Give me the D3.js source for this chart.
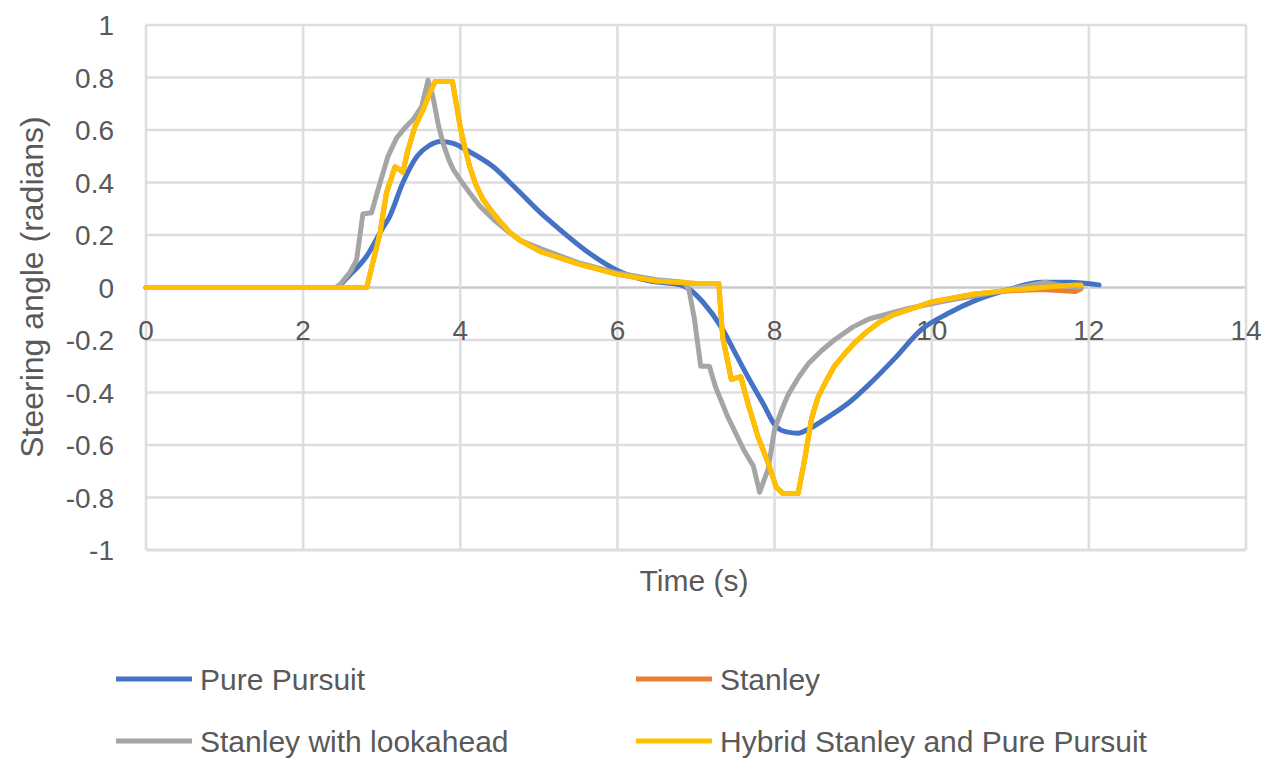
<!DOCTYPE html>
<html>
<head>
<meta charset="utf-8">
<script src="https://cdn.jsdelivr.net/npm/d3@7/dist/d3.min.js"></script>
<style>
  html, body { margin: 0; padding: 0; background: #ffffff; }
  svg text { font-family: "Liberation Sans", Arial, sans-serif; fill: #595959; }
</style>
</head>
<body>
<svg id="chart" width="1272" height="758"></svg>
<script>
// ---- Data ----
const xTicks = [0, 2, 4, 6, 8, 10, 12, 14];
const yTicks = [1, 0.8, 0.6, 0.4, 0.2, 0, -0.2, -0.4, -0.6, -0.8, -1];
const yTickLabels = ["1", "0.8", "0.6", "0.4", "0.2", "0", "-0.2", "-0.4", "-0.6", "-0.8", "-1"];

const seriesNames = ["Pure Pursuit", "Stanley", "Stanley with lookahead", "Hybrid Stanley and Pure Pursuit"];
const seriesColors = ["#4472C4", "#ED7D31", "#A5A5A5", "#FFC000"];

const purePursuitTime = [0, 2.4, 2.6, 2.81, 3.0, 3.1, 3.27, 3.45, 3.6, 3.75, 3.9, 4.1, 4.42, 4.7, 5.02, 5.27, 5.6, 6.0, 6.4, 6.8, 6.93, 7.1, 7.32, 7.5, 7.66, 7.85, 8.02, 8.15, 8.3, 8.43, 8.7, 8.94, 9.2, 9.53, 9.87, 10.2, 10.55, 10.98, 11.4, 11.75, 12.13];
const purePursuitValue = [0, 0, 0.05, 0.12, 0.22, 0.27, 0.40, 0.50, 0.54, 0.556, 0.55, 0.52, 0.46, 0.38, 0.285, 0.22, 0.14, 0.065, 0.025, 0.01, -0.01, -0.06, -0.15, -0.25, -0.34, -0.44, -0.53, -0.55, -0.555, -0.54, -0.49, -0.44, -0.37, -0.27, -0.16, -0.1, -0.05, -0.008, 0.02, 0.02, 0.01];

const stanleyTime = [0, 2.81, 2.98, 3.06, 3.17, 3.27, 3.33, 3.42, 3.53, 3.61, 3.68, 3.9, 4.0, 4.06, 4.12, 4.2, 4.29, 4.4, 4.51, 4.63, 4.76, 5.02, 5.5, 6.0, 6.5, 7.0, 7.29, 7.34, 7.45, 7.57, 7.66, 7.79, 7.92, 8.02, 8.11, 8.3, 8.38, 8.47, 8.55, 8.65, 8.76, 8.9, 9.02, 9.17, 9.32, 9.5, 9.7, 10.0, 10.55, 11.0, 11.4, 11.83, 11.9];
const stanleyValue = [0, 0, 0.21, 0.36, 0.46, 0.44, 0.52, 0.61, 0.68, 0.74, 0.785, 0.785, 0.61, 0.53, 0.46, 0.39, 0.335, 0.29, 0.25, 0.21, 0.18, 0.137, 0.09, 0.05, 0.025, 0.015, 0.015, -0.19, -0.35, -0.34, -0.44, -0.57, -0.67, -0.76, -0.785, -0.785, -0.66, -0.50, -0.42, -0.36, -0.30, -0.25, -0.21, -0.17, -0.135, -0.105, -0.085, -0.055, -0.025, -0.012, -0.008, -0.015, -0.005];

const lookaheadTime = [0, 2.44, 2.6, 2.68, 2.76, 2.87, 2.98, 3.08, 3.19, 3.3, 3.40, 3.51, 3.59, 3.65, 3.72, 3.78, 3.85, 3.91, 4.0, 4.12, 4.25, 4.42, 4.6, 4.76, 5.02, 5.5, 6.0, 6.5, 6.85, 6.91, 6.98, 7.06, 7.17, 7.25, 7.40, 7.61, 7.73, 7.81, 7.92, 8.0, 8.1, 8.17, 8.3, 8.43, 8.6, 8.76, 9.0, 9.2, 9.45, 9.7, 10.2, 10.77, 11.2, 11.45, 11.6, 11.9];
const lookaheadValue = [0, 0, 0.06, 0.105, 0.28, 0.285, 0.40, 0.50, 0.57, 0.61, 0.64, 0.69, 0.79, 0.73, 0.62, 0.55, 0.49, 0.45, 0.41, 0.36, 0.31, 0.26, 0.215, 0.18, 0.148, 0.095, 0.055, 0.03, 0.02, -0.008, -0.12, -0.30, -0.30, -0.38, -0.49, -0.62, -0.68, -0.78, -0.69, -0.54, -0.46, -0.41, -0.345, -0.29, -0.24, -0.20, -0.15, -0.12, -0.10, -0.08, -0.05, -0.02, 0.005, 0.02, 0.01, 0.0];

const hybridTime = [0, 2.81, 2.98, 3.06, 3.17, 3.27, 3.33, 3.42, 3.53, 3.61, 3.68, 3.9, 4.0, 4.06, 4.12, 4.2, 4.29, 4.4, 4.51, 4.63, 4.76, 5.02, 5.5, 6.0, 6.5, 7.0, 7.29, 7.34, 7.45, 7.57, 7.66, 7.79, 7.92, 8.02, 8.11, 8.3, 8.38, 8.47, 8.55, 8.65, 8.76, 8.9, 9.02, 9.17, 9.32, 9.5, 9.7, 10.0, 10.55, 11.0, 11.4, 11.83, 11.9];
const hybridValue = [0, 0, 0.21, 0.36, 0.46, 0.44, 0.52, 0.61, 0.68, 0.74, 0.785, 0.785, 0.61, 0.53, 0.46, 0.39, 0.335, 0.29, 0.25, 0.21, 0.18, 0.137, 0.09, 0.05, 0.025, 0.015, 0.015, -0.19, -0.35, -0.34, -0.44, -0.57, -0.67, -0.76, -0.785, -0.785, -0.66, -0.50, -0.42, -0.36, -0.30, -0.25, -0.21, -0.17, -0.135, -0.105, -0.085, -0.055, -0.025, -0.01, 0.0, 0.01, 0.01];

// ---- Layout ----
const svg = d3.select("#chart");
const plot = { left: 146, right: 1246, top: 25, bottom: 550 };

const x = d3.scaleLinear().domain([0, 14]).range([plot.left, plot.right]);
const y = d3.scaleLinear().domain([-1, 1]).range([plot.bottom, plot.top]);

// Gridlines
const grid = svg.append("g");
grid.selectAll("line.h").data(yTicks).enter().append("line")
  .attr("x1", plot.left).attr("x2", plot.right)
  .attr("y1", d => y(d)).attr("y2", d => y(d))
  .attr("stroke", d => d === 0 ? "#c8c8c8" : "#dedede")
  .attr("stroke-width", d => d === -1 ? 3.2 : 2.6);
grid.selectAll("line.v").data(xTicks).enter().append("line")
  .attr("x1", d => x(d)).attr("x2", d => x(d))
  .attr("y1", plot.top).attr("y2", plot.bottom)
  .attr("stroke", "#dedede")
  .attr("stroke-width", 2.6);

// Y tick labels
svg.append("g").selectAll("text").data(yTicks).enter().append("text")
  .attr("x", 114)
  .attr("y", d => y(d))
  .attr("dy", "0.36em")
  .attr("text-anchor", "end")
  .style("font-size", "28px")
  .text((d, i) => yTickLabels[i]);

// X tick labels (Excel places them below the axis at 0)
svg.append("g").selectAll("text").data(xTicks).enter().append("text")
  .attr("x", d => x(d))
  .attr("y", y(0) + 42)
  .attr("dy", "0.36em")
  .attr("text-anchor", "middle")
  .style("font-size", "28px")
  .text(d => d);

// Axis titles
svg.append("text")
  .attr("x", 694).attr("y", 591)
  .attr("text-anchor", "middle")
  .style("font-size", "30px")
  .text("Time (s)");

svg.append("text")
  .attr("transform", "translate(43," + 287 + ") rotate(-90)")
  .attr("text-anchor", "middle")
  .style("font-size", "32px")
  .text("Steering angle (radians)");

// Series
const series = [
  { t: purePursuitTime, v: purePursuitValue, curve: d3.curveMonotoneX },
  { t: stanleyTime, v: stanleyValue, curve: d3.curveLinear },
  { t: lookaheadTime, v: lookaheadValue, curve: d3.curveLinear },
  { t: hybridTime, v: hybridValue, curve: d3.curveLinear }
];

const lines = svg.append("g");
series.forEach((s, i) => {
  const pts = s.t.map((t, j) => [t, s.v[j]]);
  const line = d3.line().x(d => x(d[0])).y(d => y(d[1])).curve(s.curve);
  lines.append("path")
    .attr("d", line(pts))
    .attr("fill", "none")
    .attr("stroke", seriesColors[i])
    .attr("stroke-width", 5)
    .attr("stroke-linejoin", "round")
    .attr("stroke-linecap", "round");
});

// Legend
const legendPos = [
  { lx: 116, ty: 679 },
  { lx: 636, ty: 679 },
  { lx: 116, ty: 741 },
  { lx: 636, ty: 741 }
];
const legend = svg.append("g");
seriesNames.forEach((name, i) => {
  const p = legendPos[i];
  legend.append("line")
    .attr("x1", p.lx).attr("x2", p.lx + 76)
    .attr("y1", p.ty).attr("y2", p.ty)
    .attr("stroke", seriesColors[i])
    .attr("stroke-width", 5);
  legend.append("text")
    .attr("x", p.lx + 84).attr("y", p.ty)
    .attr("dy", "0.36em")
    .style("font-size", "30px")
    .text(name);
});
</script>
</body>
</html>
